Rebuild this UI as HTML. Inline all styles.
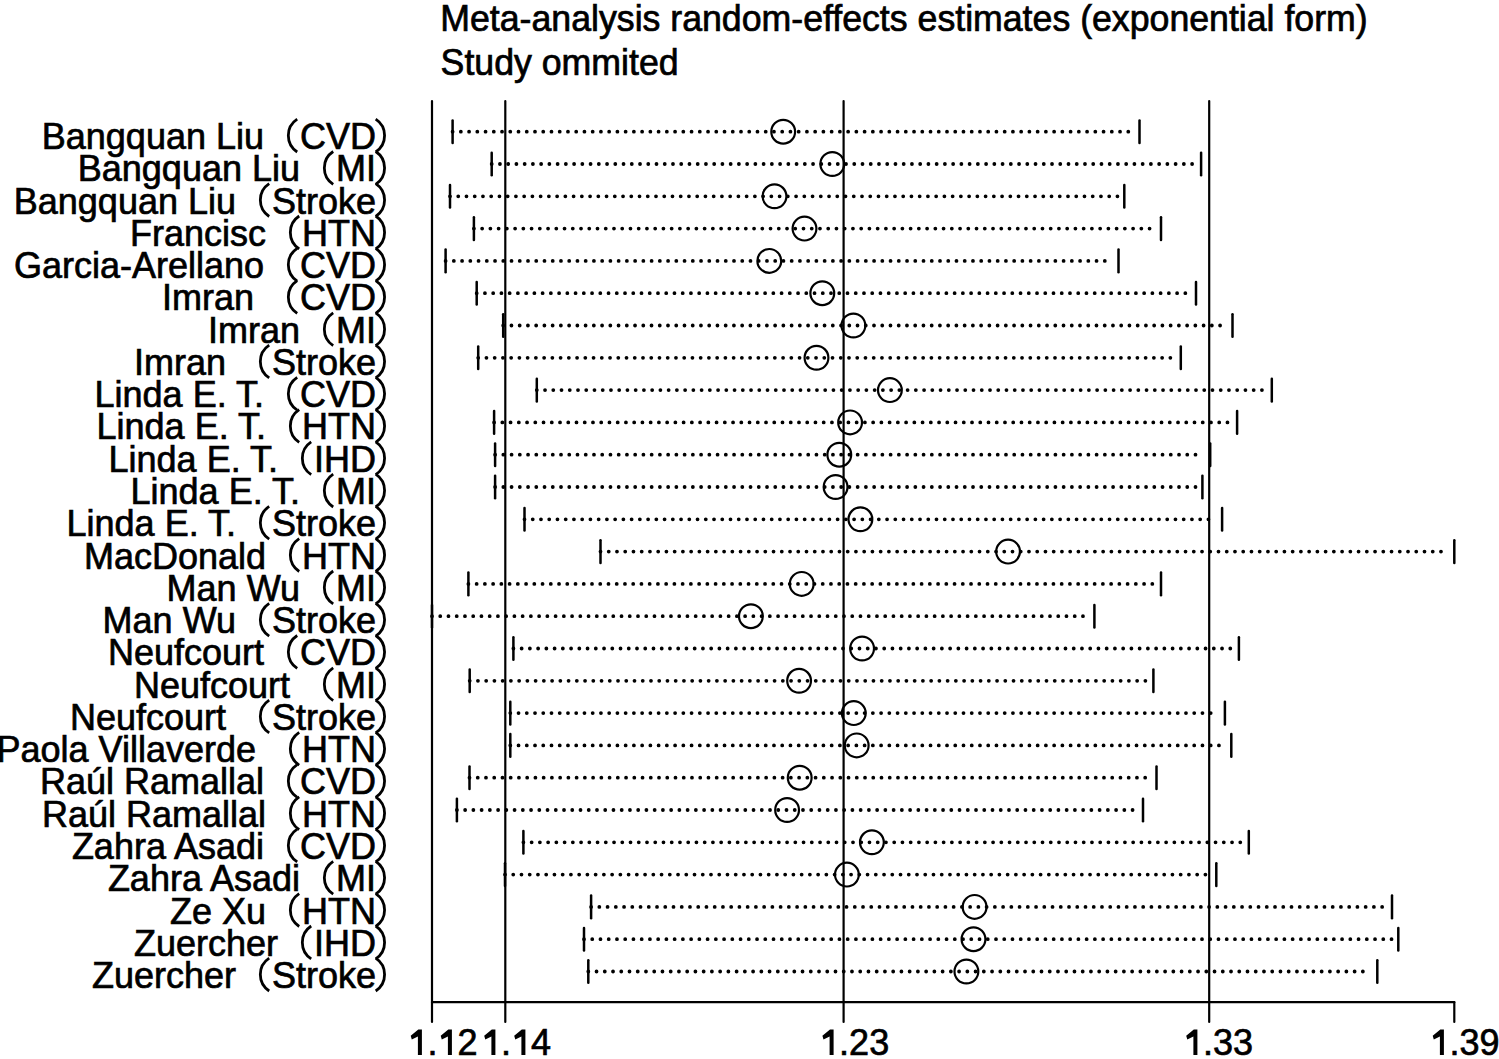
<!DOCTYPE html>
<html><head><meta charset="utf-8"><style>
html,body{margin:0;padding:0;background:#fff;}
svg{display:block;}
.t{font-family:"Liberation Sans",sans-serif;font-size:36px;fill:#000;stroke:#000;stroke-width:0.7;}
.ti{font-size:35.7px;}
.e{text-anchor:end;}
.ln{stroke:#000;stroke-width:2.2;stroke-linecap:round;}
.cap{stroke:#000;stroke-width:2.5;stroke-linecap:round;}
.pa{stroke:#000;stroke-width:2.8;fill:none;}
.dot{stroke:#000;stroke-width:3.8;stroke-linecap:round;fill:none;}
.cir{stroke:#000;stroke-width:2.2;fill:none;}
</style></head><body>
<svg width="1499" height="1059" viewBox="0 0 1499 1059">
<rect x="0" y="0" width="1499" height="1059" fill="#fff"/>
<text x="440.3" y="31" class="t ti" transform="translate(0 31) scale(1 1.06) translate(0 -31)">Meta-analysis random-effects estimates (exponential form)</text>
<text x="440.6" y="75.3" class="t ti" transform="translate(0 75.3) scale(1 1.05) translate(0 -75.3)">Study ommited</text>
<line x1="432.0" y1="101" x2="432.0" y2="1022" class="ln"/>
<line x1="505.3" y1="101" x2="505.3" y2="1022" class="ln"/>
<line x1="843.6" y1="101" x2="843.6" y2="1022" class="ln"/>
<line x1="1209.2" y1="101" x2="1209.2" y2="1022" class="ln"/>
<line x1="432" y1="1002.2" x2="1454.3" y2="1002.2" class="ln"/>
<line x1="1454.3" y1="1002.2" x2="1454.3" y2="1022" class="ln"/>
<path d="M421.9 1055.0 L417.9 1055.0 L417.9 1036.4 L411.8 1039.4 L410.7 1035.8 L418.3 1029.4 L421.9 1029.4 Z" fill="#000"/>
<text x="427.42" y="1055" class="t">.</text>
<path d="M451.9 1055.0 L447.9 1055.0 L447.9 1036.4 L441.8 1039.4 L440.7 1035.8 L448.3 1029.4 L451.9 1029.4 Z" fill="#000"/>
<text x="457.44" y="1055" class="t">2</text>
<path d="M495.4 1055.0 L491.4 1055.0 L491.4 1036.4 L485.3 1039.4 L484.2 1035.8 L491.8 1029.4 L495.4 1029.4 Z" fill="#000"/>
<text x="500.92" y="1055" class="t">.</text>
<path d="M525.4 1055.0 L521.4 1055.0 L521.4 1036.4 L515.3 1039.4 L514.2 1035.8 L521.8 1029.4 L525.4 1029.4 Z" fill="#000"/>
<text x="530.94" y="1055" class="t">4</text>
<path d="M833.6 1055.0 L829.6 1055.0 L829.6 1036.4 L823.5 1039.4 L822.4 1035.8 L830.0 1029.4 L833.6 1029.4 Z" fill="#000"/>
<text x="839.12" y="1055" class="t">.</text>
<text x="849.12" y="1055" class="t">2</text>
<text x="869.14" y="1055" class="t">3</text>
<path d="M1197.4 1055.0 L1193.4 1055.0 L1193.4 1036.4 L1187.3 1039.4 L1186.2 1035.8 L1193.8 1029.4 L1197.4 1029.4 Z" fill="#000"/>
<text x="1202.92" y="1055" class="t">.</text>
<text x="1212.92" y="1055" class="t">3</text>
<text x="1232.94" y="1055" class="t">3</text>
<path d="M1443.9 1055.0 L1439.9 1055.0 L1439.9 1036.4 L1433.8 1039.4 L1432.7 1035.8 L1440.3 1029.4 L1443.9 1029.4 Z" fill="#000"/>
<text x="1449.42" y="1055" class="t">.</text>
<text x="1459.42" y="1055" class="t">3</text>
<text x="1479.44" y="1055" class="t">9</text>
<text x="376.0" y="149.0" class="t e">CVD</text>
<path d="M297.2 119.2 A19.6 19.6 0 0 0 297.2 152.0" class="pa"/>
<path d="M375.7 119.2 A19.6 19.6 0 0 1 375.7 152.0" class="pa"/>
<text x="264.0" y="149.0" class="t e" xml:space="preserve">Bangquan Liu</text>
<line x1="452.6" y1="120.4" x2="452.6" y2="143.0" class="cap"/>
<line x1="1139.5" y1="120.4" x2="1139.5" y2="143.0" class="cap"/>
<path d="M452.60 131.7h0M460.84 131.7h0M469.08 131.7h0M477.32 131.7h0M485.56 131.7h0M493.80 131.7h0M502.04 131.7h0M510.28 131.7h0M518.52 131.7h0M526.76 131.7h0M535.00 131.7h0M543.24 131.7h0M551.48 131.7h0M559.72 131.7h0M567.96 131.7h0M576.20 131.7h0M584.44 131.7h0M592.68 131.7h0M600.92 131.7h0M609.16 131.7h0M617.40 131.7h0M625.64 131.7h0M633.88 131.7h0M642.12 131.7h0M650.36 131.7h0M658.60 131.7h0M666.84 131.7h0M675.08 131.7h0M683.32 131.7h0M691.56 131.7h0M699.80 131.7h0M708.04 131.7h0M716.28 131.7h0M724.52 131.7h0M732.76 131.7h0M741.00 131.7h0M749.24 131.7h0M757.48 131.7h0M765.72 131.7h0M773.96 131.7h0M782.20 131.7h0M790.44 131.7h0M798.68 131.7h0M806.92 131.7h0M815.16 131.7h0M823.40 131.7h0M831.64 131.7h0M839.88 131.7h0M848.12 131.7h0M856.36 131.7h0M864.60 131.7h0M872.84 131.7h0M881.08 131.7h0M889.32 131.7h0M897.56 131.7h0M905.80 131.7h0M914.04 131.7h0M922.28 131.7h0M930.52 131.7h0M938.76 131.7h0M947.00 131.7h0M955.24 131.7h0M963.48 131.7h0M971.72 131.7h0M979.96 131.7h0M988.20 131.7h0M996.44 131.7h0M1004.68 131.7h0M1012.92 131.7h0M1021.16 131.7h0M1029.40 131.7h0M1037.64 131.7h0M1045.88 131.7h0M1054.12 131.7h0M1062.36 131.7h0M1070.60 131.7h0M1078.84 131.7h0M1087.08 131.7h0M1095.32 131.7h0M1103.56 131.7h0M1111.80 131.7h0M1120.04 131.7h0M1128.28 131.7h0" class="dot"/>
<circle cx="783.2" cy="131.7" r="11.9" class="cir"/>
<text x="376.0" y="181.3" class="t e">MI</text>
<path d="M333.2 151.5 A19.6 19.6 0 0 0 333.2 184.3" class="pa"/>
<path d="M375.7 151.5 A19.6 19.6 0 0 1 375.7 184.3" class="pa"/>
<text x="300.0" y="181.3" class="t e" xml:space="preserve">Bangquan Liu</text>
<line x1="491.7" y1="152.7" x2="491.7" y2="175.3" class="cap"/>
<line x1="1201.1" y1="152.7" x2="1201.1" y2="175.3" class="cap"/>
<path d="M491.70 164.0h0M499.94 164.0h0M508.18 164.0h0M516.42 164.0h0M524.66 164.0h0M532.90 164.0h0M541.14 164.0h0M549.38 164.0h0M557.62 164.0h0M565.86 164.0h0M574.10 164.0h0M582.34 164.0h0M590.58 164.0h0M598.82 164.0h0M607.06 164.0h0M615.30 164.0h0M623.54 164.0h0M631.78 164.0h0M640.02 164.0h0M648.26 164.0h0M656.50 164.0h0M664.74 164.0h0M672.98 164.0h0M681.22 164.0h0M689.46 164.0h0M697.70 164.0h0M705.94 164.0h0M714.18 164.0h0M722.42 164.0h0M730.66 164.0h0M738.90 164.0h0M747.14 164.0h0M755.38 164.0h0M763.62 164.0h0M771.86 164.0h0M780.10 164.0h0M788.34 164.0h0M796.58 164.0h0M804.82 164.0h0M813.06 164.0h0M821.30 164.0h0M829.54 164.0h0M837.78 164.0h0M846.02 164.0h0M854.26 164.0h0M862.50 164.0h0M870.74 164.0h0M878.98 164.0h0M887.22 164.0h0M895.46 164.0h0M903.70 164.0h0M911.94 164.0h0M920.18 164.0h0M928.42 164.0h0M936.66 164.0h0M944.90 164.0h0M953.14 164.0h0M961.38 164.0h0M969.62 164.0h0M977.86 164.0h0M986.10 164.0h0M994.34 164.0h0M1002.58 164.0h0M1010.82 164.0h0M1019.06 164.0h0M1027.30 164.0h0M1035.54 164.0h0M1043.78 164.0h0M1052.02 164.0h0M1060.26 164.0h0M1068.50 164.0h0M1076.74 164.0h0M1084.98 164.0h0M1093.22 164.0h0M1101.46 164.0h0M1109.70 164.0h0M1117.94 164.0h0M1126.18 164.0h0M1134.42 164.0h0M1142.66 164.0h0M1150.90 164.0h0M1159.14 164.0h0M1167.38 164.0h0M1175.62 164.0h0M1183.86 164.0h0M1192.10 164.0h0" class="dot"/>
<circle cx="832.3" cy="164.0" r="11.9" class="cir"/>
<text x="376.0" y="213.5" class="t e">Stroke</text>
<path d="M269.2 183.7 A19.6 19.6 0 0 0 269.2 216.5" class="pa"/>
<path d="M375.7 183.7 A19.6 19.6 0 0 1 375.7 216.5" class="pa"/>
<text x="236.0" y="213.5" class="t e" xml:space="preserve">Bangquan Liu</text>
<line x1="450.0" y1="185.0" x2="450.0" y2="207.6" class="cap"/>
<line x1="1124.3" y1="185.0" x2="1124.3" y2="207.6" class="cap"/>
<path d="M450.00 196.3h0M458.24 196.3h0M466.48 196.3h0M474.72 196.3h0M482.96 196.3h0M491.20 196.3h0M499.44 196.3h0M507.68 196.3h0M515.92 196.3h0M524.16 196.3h0M532.40 196.3h0M540.64 196.3h0M548.88 196.3h0M557.12 196.3h0M565.36 196.3h0M573.60 196.3h0M581.84 196.3h0M590.08 196.3h0M598.32 196.3h0M606.56 196.3h0M614.80 196.3h0M623.04 196.3h0M631.28 196.3h0M639.52 196.3h0M647.76 196.3h0M656.00 196.3h0M664.24 196.3h0M672.48 196.3h0M680.72 196.3h0M688.96 196.3h0M697.20 196.3h0M705.44 196.3h0M713.68 196.3h0M721.92 196.3h0M730.16 196.3h0M738.40 196.3h0M746.64 196.3h0M754.88 196.3h0M763.12 196.3h0M771.36 196.3h0M779.60 196.3h0M787.84 196.3h0M796.08 196.3h0M804.32 196.3h0M812.56 196.3h0M820.80 196.3h0M829.04 196.3h0M837.28 196.3h0M845.52 196.3h0M853.76 196.3h0M862.00 196.3h0M870.24 196.3h0M878.48 196.3h0M886.72 196.3h0M894.96 196.3h0M903.20 196.3h0M911.44 196.3h0M919.68 196.3h0M927.92 196.3h0M936.16 196.3h0M944.40 196.3h0M952.64 196.3h0M960.88 196.3h0M969.12 196.3h0M977.36 196.3h0M985.60 196.3h0M993.84 196.3h0M1002.08 196.3h0M1010.32 196.3h0M1018.56 196.3h0M1026.80 196.3h0M1035.04 196.3h0M1043.28 196.3h0M1051.52 196.3h0M1059.76 196.3h0M1068.00 196.3h0M1076.24 196.3h0M1084.48 196.3h0M1092.72 196.3h0M1100.96 196.3h0M1109.20 196.3h0M1117.44 196.3h0" class="dot"/>
<circle cx="774.5" cy="196.3" r="11.9" class="cir"/>
<text x="376.0" y="245.8" class="t e">HTN</text>
<path d="M299.2 216.0 A19.6 19.6 0 0 0 299.2 248.8" class="pa"/>
<path d="M375.7 216.0 A19.6 19.6 0 0 1 375.7 248.8" class="pa"/>
<text x="266.0" y="245.8" class="t e" xml:space="preserve">Francisc</text>
<line x1="473.9" y1="217.3" x2="473.9" y2="239.9" class="cap"/>
<line x1="1161.0" y1="217.3" x2="1161.0" y2="239.9" class="cap"/>
<path d="M473.90 228.6h0M482.14 228.6h0M490.38 228.6h0M498.62 228.6h0M506.86 228.6h0M515.10 228.6h0M523.34 228.6h0M531.58 228.6h0M539.82 228.6h0M548.06 228.6h0M556.30 228.6h0M564.54 228.6h0M572.78 228.6h0M581.02 228.6h0M589.26 228.6h0M597.50 228.6h0M605.74 228.6h0M613.98 228.6h0M622.22 228.6h0M630.46 228.6h0M638.70 228.6h0M646.94 228.6h0M655.18 228.6h0M663.42 228.6h0M671.66 228.6h0M679.90 228.6h0M688.14 228.6h0M696.38 228.6h0M704.62 228.6h0M712.86 228.6h0M721.10 228.6h0M729.34 228.6h0M737.58 228.6h0M745.82 228.6h0M754.06 228.6h0M762.30 228.6h0M770.54 228.6h0M778.78 228.6h0M787.02 228.6h0M795.26 228.6h0M803.50 228.6h0M811.74 228.6h0M819.98 228.6h0M828.22 228.6h0M836.46 228.6h0M844.70 228.6h0M852.94 228.6h0M861.18 228.6h0M869.42 228.6h0M877.66 228.6h0M885.90 228.6h0M894.14 228.6h0M902.38 228.6h0M910.62 228.6h0M918.86 228.6h0M927.10 228.6h0M935.34 228.6h0M943.58 228.6h0M951.82 228.6h0M960.06 228.6h0M968.30 228.6h0M976.54 228.6h0M984.78 228.6h0M993.02 228.6h0M1001.26 228.6h0M1009.50 228.6h0M1017.74 228.6h0M1025.98 228.6h0M1034.22 228.6h0M1042.46 228.6h0M1050.70 228.6h0M1058.94 228.6h0M1067.18 228.6h0M1075.42 228.6h0M1083.66 228.6h0M1091.90 228.6h0M1100.14 228.6h0M1108.38 228.6h0M1116.62 228.6h0M1124.86 228.6h0M1133.10 228.6h0M1141.34 228.6h0M1149.58 228.6h0" class="dot"/>
<circle cx="804.5" cy="228.6" r="11.9" class="cir"/>
<text x="376.0" y="278.1" class="t e">CVD</text>
<path d="M297.2 248.3 A19.6 19.6 0 0 0 297.2 281.1" class="pa"/>
<path d="M375.7 248.3 A19.6 19.6 0 0 1 375.7 281.1" class="pa"/>
<text x="264.0" y="278.1" class="t e" xml:space="preserve">Garcia-Arellano</text>
<line x1="445.6" y1="249.6" x2="445.6" y2="272.2" class="cap"/>
<line x1="1118.5" y1="249.6" x2="1118.5" y2="272.2" class="cap"/>
<path d="M445.60 260.9h0M453.84 260.9h0M462.08 260.9h0M470.32 260.9h0M478.56 260.9h0M486.80 260.9h0M495.04 260.9h0M503.28 260.9h0M511.52 260.9h0M519.76 260.9h0M528.00 260.9h0M536.24 260.9h0M544.48 260.9h0M552.72 260.9h0M560.96 260.9h0M569.20 260.9h0M577.44 260.9h0M585.68 260.9h0M593.92 260.9h0M602.16 260.9h0M610.40 260.9h0M618.64 260.9h0M626.88 260.9h0M635.12 260.9h0M643.36 260.9h0M651.60 260.9h0M659.84 260.9h0M668.08 260.9h0M676.32 260.9h0M684.56 260.9h0M692.80 260.9h0M701.04 260.9h0M709.28 260.9h0M717.52 260.9h0M725.76 260.9h0M734.00 260.9h0M742.24 260.9h0M750.48 260.9h0M758.72 260.9h0M766.96 260.9h0M775.20 260.9h0M783.44 260.9h0M791.68 260.9h0M799.92 260.9h0M808.16 260.9h0M816.40 260.9h0M824.64 260.9h0M832.88 260.9h0M841.12 260.9h0M849.36 260.9h0M857.60 260.9h0M865.84 260.9h0M874.08 260.9h0M882.32 260.9h0M890.56 260.9h0M898.80 260.9h0M907.04 260.9h0M915.28 260.9h0M923.52 260.9h0M931.76 260.9h0M940.00 260.9h0M948.24 260.9h0M956.48 260.9h0M964.72 260.9h0M972.96 260.9h0M981.20 260.9h0M989.44 260.9h0M997.68 260.9h0M1005.92 260.9h0M1014.16 260.9h0M1022.40 260.9h0M1030.64 260.9h0M1038.88 260.9h0M1047.12 260.9h0M1055.36 260.9h0M1063.60 260.9h0M1071.84 260.9h0M1080.08 260.9h0M1088.32 260.9h0M1096.56 260.9h0M1104.80 260.9h0" class="dot"/>
<circle cx="769.3" cy="260.9" r="11.9" class="cir"/>
<text x="376.0" y="310.4" class="t e">CVD</text>
<path d="M297.2 280.6 A19.6 19.6 0 0 0 297.2 313.4" class="pa"/>
<path d="M375.7 280.6 A19.6 19.6 0 0 1 375.7 313.4" class="pa"/>
<text x="264.0" y="310.4" class="t e" xml:space="preserve">Imran </text>
<line x1="476.7" y1="281.9" x2="476.7" y2="304.5" class="cap"/>
<line x1="1196.0" y1="281.9" x2="1196.0" y2="304.5" class="cap"/>
<path d="M476.70 293.2h0M484.94 293.2h0M493.18 293.2h0M501.42 293.2h0M509.66 293.2h0M517.90 293.2h0M526.14 293.2h0M534.38 293.2h0M542.62 293.2h0M550.86 293.2h0M559.10 293.2h0M567.34 293.2h0M575.58 293.2h0M583.82 293.2h0M592.06 293.2h0M600.30 293.2h0M608.54 293.2h0M616.78 293.2h0M625.02 293.2h0M633.26 293.2h0M641.50 293.2h0M649.74 293.2h0M657.98 293.2h0M666.22 293.2h0M674.46 293.2h0M682.70 293.2h0M690.94 293.2h0M699.18 293.2h0M707.42 293.2h0M715.66 293.2h0M723.90 293.2h0M732.14 293.2h0M740.38 293.2h0M748.62 293.2h0M756.86 293.2h0M765.10 293.2h0M773.34 293.2h0M781.58 293.2h0M789.82 293.2h0M798.06 293.2h0M806.30 293.2h0M814.54 293.2h0M822.78 293.2h0M831.02 293.2h0M839.26 293.2h0M847.50 293.2h0M855.74 293.2h0M863.98 293.2h0M872.22 293.2h0M880.46 293.2h0M888.70 293.2h0M896.94 293.2h0M905.18 293.2h0M913.42 293.2h0M921.66 293.2h0M929.90 293.2h0M938.14 293.2h0M946.38 293.2h0M954.62 293.2h0M962.86 293.2h0M971.10 293.2h0M979.34 293.2h0M987.58 293.2h0M995.82 293.2h0M1004.06 293.2h0M1012.30 293.2h0M1020.54 293.2h0M1028.78 293.2h0M1037.02 293.2h0M1045.26 293.2h0M1053.50 293.2h0M1061.74 293.2h0M1069.98 293.2h0M1078.22 293.2h0M1086.46 293.2h0M1094.70 293.2h0M1102.94 293.2h0M1111.18 293.2h0M1119.42 293.2h0M1127.66 293.2h0M1135.90 293.2h0M1144.14 293.2h0M1152.38 293.2h0M1160.62 293.2h0M1168.86 293.2h0M1177.10 293.2h0M1185.34 293.2h0" class="dot"/>
<circle cx="822.3" cy="293.2" r="11.9" class="cir"/>
<text x="376.0" y="342.6" class="t e">MI</text>
<path d="M333.2 312.8 A19.6 19.6 0 0 0 333.2 345.6" class="pa"/>
<path d="M375.7 312.8 A19.6 19.6 0 0 1 375.7 345.6" class="pa"/>
<text x="300.0" y="342.6" class="t e" xml:space="preserve">Imran</text>
<line x1="503.2" y1="314.2" x2="503.2" y2="336.8" class="cap"/>
<line x1="1232.5" y1="314.2" x2="1232.5" y2="336.8" class="cap"/>
<path d="M503.20 325.5h0M511.44 325.5h0M519.68 325.5h0M527.92 325.5h0M536.16 325.5h0M544.40 325.5h0M552.64 325.5h0M560.88 325.5h0M569.12 325.5h0M577.36 325.5h0M585.60 325.5h0M593.84 325.5h0M602.08 325.5h0M610.32 325.5h0M618.56 325.5h0M626.80 325.5h0M635.04 325.5h0M643.28 325.5h0M651.52 325.5h0M659.76 325.5h0M668.00 325.5h0M676.24 325.5h0M684.48 325.5h0M692.72 325.5h0M700.96 325.5h0M709.20 325.5h0M717.44 325.5h0M725.68 325.5h0M733.92 325.5h0M742.16 325.5h0M750.40 325.5h0M758.64 325.5h0M766.88 325.5h0M775.12 325.5h0M783.36 325.5h0M791.60 325.5h0M799.84 325.5h0M808.08 325.5h0M816.32 325.5h0M824.56 325.5h0M832.80 325.5h0M841.04 325.5h0M849.28 325.5h0M857.52 325.5h0M865.76 325.5h0M874.00 325.5h0M882.24 325.5h0M890.48 325.5h0M898.72 325.5h0M906.96 325.5h0M915.20 325.5h0M923.44 325.5h0M931.68 325.5h0M939.92 325.5h0M948.16 325.5h0M956.40 325.5h0M964.64 325.5h0M972.88 325.5h0M981.12 325.5h0M989.36 325.5h0M997.60 325.5h0M1005.84 325.5h0M1014.08 325.5h0M1022.32 325.5h0M1030.56 325.5h0M1038.80 325.5h0M1047.04 325.5h0M1055.28 325.5h0M1063.52 325.5h0M1071.76 325.5h0M1080.00 325.5h0M1088.24 325.5h0M1096.48 325.5h0M1104.72 325.5h0M1112.96 325.5h0M1121.20 325.5h0M1129.44 325.5h0M1137.68 325.5h0M1145.92 325.5h0M1154.16 325.5h0M1162.40 325.5h0M1170.64 325.5h0M1178.88 325.5h0M1187.12 325.5h0M1195.36 325.5h0M1203.60 325.5h0M1211.84 325.5h0M1220.08 325.5h0" class="dot"/>
<circle cx="853.4" cy="325.5" r="11.9" class="cir"/>
<text x="376.0" y="374.9" class="t e">Stroke</text>
<path d="M269.2 345.1 A19.6 19.6 0 0 0 269.2 377.9" class="pa"/>
<path d="M375.7 345.1 A19.6 19.6 0 0 1 375.7 377.9" class="pa"/>
<text x="236.0" y="374.9" class="t e" xml:space="preserve">Imran </text>
<line x1="478.2" y1="346.5" x2="478.2" y2="369.1" class="cap"/>
<line x1="1180.8" y1="346.5" x2="1180.8" y2="369.1" class="cap"/>
<path d="M478.20 357.8h0M486.44 357.8h0M494.68 357.8h0M502.92 357.8h0M511.16 357.8h0M519.40 357.8h0M527.64 357.8h0M535.88 357.8h0M544.12 357.8h0M552.36 357.8h0M560.60 357.8h0M568.84 357.8h0M577.08 357.8h0M585.32 357.8h0M593.56 357.8h0M601.80 357.8h0M610.04 357.8h0M618.28 357.8h0M626.52 357.8h0M634.76 357.8h0M643.00 357.8h0M651.24 357.8h0M659.48 357.8h0M667.72 357.8h0M675.96 357.8h0M684.20 357.8h0M692.44 357.8h0M700.68 357.8h0M708.92 357.8h0M717.16 357.8h0M725.40 357.8h0M733.64 357.8h0M741.88 357.8h0M750.12 357.8h0M758.36 357.8h0M766.60 357.8h0M774.84 357.8h0M783.08 357.8h0M791.32 357.8h0M799.56 357.8h0M807.80 357.8h0M816.04 357.8h0M824.28 357.8h0M832.52 357.8h0M840.76 357.8h0M849.00 357.8h0M857.24 357.8h0M865.48 357.8h0M873.72 357.8h0M881.96 357.8h0M890.20 357.8h0M898.44 357.8h0M906.68 357.8h0M914.92 357.8h0M923.16 357.8h0M931.40 357.8h0M939.64 357.8h0M947.88 357.8h0M956.12 357.8h0M964.36 357.8h0M972.60 357.8h0M980.84 357.8h0M989.08 357.8h0M997.32 357.8h0M1005.56 357.8h0M1013.80 357.8h0M1022.04 357.8h0M1030.28 357.8h0M1038.52 357.8h0M1046.76 357.8h0M1055.00 357.8h0M1063.24 357.8h0M1071.48 357.8h0M1079.72 357.8h0M1087.96 357.8h0M1096.20 357.8h0M1104.44 357.8h0M1112.68 357.8h0M1120.92 357.8h0M1129.16 357.8h0M1137.40 357.8h0M1145.64 357.8h0M1153.88 357.8h0M1162.12 357.8h0M1170.36 357.8h0" class="dot"/>
<circle cx="816.5" cy="357.8" r="11.9" class="cir"/>
<text x="376.0" y="407.2" class="t e">CVD</text>
<path d="M297.2 377.4 A19.6 19.6 0 0 0 297.2 410.2" class="pa"/>
<path d="M375.7 377.4 A19.6 19.6 0 0 1 375.7 410.2" class="pa"/>
<text x="264.0" y="407.2" class="t e" xml:space="preserve">Linda E. T.</text>
<line x1="536.8" y1="378.8" x2="536.8" y2="401.4" class="cap"/>
<line x1="1271.8" y1="378.8" x2="1271.8" y2="401.4" class="cap"/>
<path d="M536.80 390.1h0M545.04 390.1h0M553.28 390.1h0M561.52 390.1h0M569.76 390.1h0M578.00 390.1h0M586.24 390.1h0M594.48 390.1h0M602.72 390.1h0M610.96 390.1h0M619.20 390.1h0M627.44 390.1h0M635.68 390.1h0M643.92 390.1h0M652.16 390.1h0M660.40 390.1h0M668.64 390.1h0M676.88 390.1h0M685.12 390.1h0M693.36 390.1h0M701.60 390.1h0M709.84 390.1h0M718.08 390.1h0M726.32 390.1h0M734.56 390.1h0M742.80 390.1h0M751.04 390.1h0M759.28 390.1h0M767.52 390.1h0M775.76 390.1h0M784.00 390.1h0M792.24 390.1h0M800.48 390.1h0M808.72 390.1h0M816.96 390.1h0M825.20 390.1h0M833.44 390.1h0M841.68 390.1h0M849.92 390.1h0M858.16 390.1h0M866.40 390.1h0M874.64 390.1h0M882.88 390.1h0M891.12 390.1h0M899.36 390.1h0M907.60 390.1h0M915.84 390.1h0M924.08 390.1h0M932.32 390.1h0M940.56 390.1h0M948.80 390.1h0M957.04 390.1h0M965.28 390.1h0M973.52 390.1h0M981.76 390.1h0M990.00 390.1h0M998.24 390.1h0M1006.48 390.1h0M1014.72 390.1h0M1022.96 390.1h0M1031.20 390.1h0M1039.44 390.1h0M1047.68 390.1h0M1055.92 390.1h0M1064.16 390.1h0M1072.40 390.1h0M1080.64 390.1h0M1088.88 390.1h0M1097.12 390.1h0M1105.36 390.1h0M1113.60 390.1h0M1121.84 390.1h0M1130.08 390.1h0M1138.32 390.1h0M1146.56 390.1h0M1154.80 390.1h0M1163.04 390.1h0M1171.28 390.1h0M1179.52 390.1h0M1187.76 390.1h0M1196.00 390.1h0M1204.24 390.1h0M1212.48 390.1h0M1220.72 390.1h0M1228.96 390.1h0M1237.20 390.1h0M1245.44 390.1h0M1253.68 390.1h0M1261.92 390.1h0" class="dot"/>
<circle cx="889.9" cy="390.1" r="11.9" class="cir"/>
<text x="376.0" y="439.4" class="t e">HTN</text>
<path d="M299.2 409.6 A19.6 19.6 0 0 0 299.2 442.4" class="pa"/>
<path d="M375.7 409.6 A19.6 19.6 0 0 1 375.7 442.4" class="pa"/>
<text x="266.0" y="439.4" class="t e" xml:space="preserve">Linda E. T.</text>
<line x1="494.1" y1="411.1" x2="494.1" y2="433.7" class="cap"/>
<line x1="1237.1" y1="411.1" x2="1237.1" y2="433.7" class="cap"/>
<path d="M494.10 422.4h0M502.34 422.4h0M510.58 422.4h0M518.82 422.4h0M527.06 422.4h0M535.30 422.4h0M543.54 422.4h0M551.78 422.4h0M560.02 422.4h0M568.26 422.4h0M576.50 422.4h0M584.74 422.4h0M592.98 422.4h0M601.22 422.4h0M609.46 422.4h0M617.70 422.4h0M625.94 422.4h0M634.18 422.4h0M642.42 422.4h0M650.66 422.4h0M658.90 422.4h0M667.14 422.4h0M675.38 422.4h0M683.62 422.4h0M691.86 422.4h0M700.10 422.4h0M708.34 422.4h0M716.58 422.4h0M724.82 422.4h0M733.06 422.4h0M741.30 422.4h0M749.54 422.4h0M757.78 422.4h0M766.02 422.4h0M774.26 422.4h0M782.50 422.4h0M790.74 422.4h0M798.98 422.4h0M807.22 422.4h0M815.46 422.4h0M823.70 422.4h0M831.94 422.4h0M840.18 422.4h0M848.42 422.4h0M856.66 422.4h0M864.90 422.4h0M873.14 422.4h0M881.38 422.4h0M889.62 422.4h0M897.86 422.4h0M906.10 422.4h0M914.34 422.4h0M922.58 422.4h0M930.82 422.4h0M939.06 422.4h0M947.30 422.4h0M955.54 422.4h0M963.78 422.4h0M972.02 422.4h0M980.26 422.4h0M988.50 422.4h0M996.74 422.4h0M1004.98 422.4h0M1013.22 422.4h0M1021.46 422.4h0M1029.70 422.4h0M1037.94 422.4h0M1046.18 422.4h0M1054.42 422.4h0M1062.66 422.4h0M1070.90 422.4h0M1079.14 422.4h0M1087.38 422.4h0M1095.62 422.4h0M1103.86 422.4h0M1112.10 422.4h0M1120.34 422.4h0M1128.58 422.4h0M1136.82 422.4h0M1145.06 422.4h0M1153.30 422.4h0M1161.54 422.4h0M1169.78 422.4h0M1178.02 422.4h0M1186.26 422.4h0M1194.50 422.4h0M1202.74 422.4h0M1210.98 422.4h0M1219.22 422.4h0M1227.46 422.4h0" class="dot"/>
<circle cx="850.1" cy="422.4" r="11.9" class="cir"/>
<text x="376.0" y="471.7" class="t e">IHD</text>
<path d="M311.2 441.9 A19.6 19.6 0 0 0 311.2 474.7" class="pa"/>
<path d="M375.7 441.9 A19.6 19.6 0 0 1 375.7 474.7" class="pa"/>
<text x="278.0" y="471.7" class="t e" xml:space="preserve">Linda E. T.</text>
<line x1="495.1" y1="443.4" x2="495.1" y2="466.0" class="cap"/>
<line x1="1210.2" y1="443.4" x2="1210.2" y2="466.0" class="cap"/>
<path d="M495.10 454.7h0M503.34 454.7h0M511.58 454.7h0M519.82 454.7h0M528.06 454.7h0M536.30 454.7h0M544.54 454.7h0M552.78 454.7h0M561.02 454.7h0M569.26 454.7h0M577.50 454.7h0M585.74 454.7h0M593.98 454.7h0M602.22 454.7h0M610.46 454.7h0M618.70 454.7h0M626.94 454.7h0M635.18 454.7h0M643.42 454.7h0M651.66 454.7h0M659.90 454.7h0M668.14 454.7h0M676.38 454.7h0M684.62 454.7h0M692.86 454.7h0M701.10 454.7h0M709.34 454.7h0M717.58 454.7h0M725.82 454.7h0M734.06 454.7h0M742.30 454.7h0M750.54 454.7h0M758.78 454.7h0M767.02 454.7h0M775.26 454.7h0M783.50 454.7h0M791.74 454.7h0M799.98 454.7h0M808.22 454.7h0M816.46 454.7h0M824.70 454.7h0M832.94 454.7h0M841.18 454.7h0M849.42 454.7h0M857.66 454.7h0M865.90 454.7h0M874.14 454.7h0M882.38 454.7h0M890.62 454.7h0M898.86 454.7h0M907.10 454.7h0M915.34 454.7h0M923.58 454.7h0M931.82 454.7h0M940.06 454.7h0M948.30 454.7h0M956.54 454.7h0M964.78 454.7h0M973.02 454.7h0M981.26 454.7h0M989.50 454.7h0M997.74 454.7h0M1005.98 454.7h0M1014.22 454.7h0M1022.46 454.7h0M1030.70 454.7h0M1038.94 454.7h0M1047.18 454.7h0M1055.42 454.7h0M1063.66 454.7h0M1071.90 454.7h0M1080.14 454.7h0M1088.38 454.7h0M1096.62 454.7h0M1104.86 454.7h0M1113.10 454.7h0M1121.34 454.7h0M1129.58 454.7h0M1137.82 454.7h0M1146.06 454.7h0M1154.30 454.7h0M1162.54 454.7h0M1170.78 454.7h0M1179.02 454.7h0M1187.26 454.7h0M1195.50 454.7h0" class="dot"/>
<circle cx="839.3" cy="454.7" r="11.9" class="cir"/>
<text x="376.0" y="504.0" class="t e">MI</text>
<path d="M333.2 474.2 A19.6 19.6 0 0 0 333.2 507.0" class="pa"/>
<path d="M375.7 474.2 A19.6 19.6 0 0 1 375.7 507.0" class="pa"/>
<text x="300.0" y="504.0" class="t e" xml:space="preserve">Linda E. T.</text>
<line x1="495.1" y1="475.7" x2="495.1" y2="498.3" class="cap"/>
<line x1="1202.4" y1="475.7" x2="1202.4" y2="498.3" class="cap"/>
<path d="M495.10 487.0h0M503.34 487.0h0M511.58 487.0h0M519.82 487.0h0M528.06 487.0h0M536.30 487.0h0M544.54 487.0h0M552.78 487.0h0M561.02 487.0h0M569.26 487.0h0M577.50 487.0h0M585.74 487.0h0M593.98 487.0h0M602.22 487.0h0M610.46 487.0h0M618.70 487.0h0M626.94 487.0h0M635.18 487.0h0M643.42 487.0h0M651.66 487.0h0M659.90 487.0h0M668.14 487.0h0M676.38 487.0h0M684.62 487.0h0M692.86 487.0h0M701.10 487.0h0M709.34 487.0h0M717.58 487.0h0M725.82 487.0h0M734.06 487.0h0M742.30 487.0h0M750.54 487.0h0M758.78 487.0h0M767.02 487.0h0M775.26 487.0h0M783.50 487.0h0M791.74 487.0h0M799.98 487.0h0M808.22 487.0h0M816.46 487.0h0M824.70 487.0h0M832.94 487.0h0M841.18 487.0h0M849.42 487.0h0M857.66 487.0h0M865.90 487.0h0M874.14 487.0h0M882.38 487.0h0M890.62 487.0h0M898.86 487.0h0M907.10 487.0h0M915.34 487.0h0M923.58 487.0h0M931.82 487.0h0M940.06 487.0h0M948.30 487.0h0M956.54 487.0h0M964.78 487.0h0M973.02 487.0h0M981.26 487.0h0M989.50 487.0h0M997.74 487.0h0M1005.98 487.0h0M1014.22 487.0h0M1022.46 487.0h0M1030.70 487.0h0M1038.94 487.0h0M1047.18 487.0h0M1055.42 487.0h0M1063.66 487.0h0M1071.90 487.0h0M1080.14 487.0h0M1088.38 487.0h0M1096.62 487.0h0M1104.86 487.0h0M1113.10 487.0h0M1121.34 487.0h0M1129.58 487.0h0M1137.82 487.0h0M1146.06 487.0h0M1154.30 487.0h0M1162.54 487.0h0M1170.78 487.0h0M1179.02 487.0h0M1187.26 487.0h0M1195.50 487.0h0" class="dot"/>
<circle cx="835.6" cy="487.0" r="11.9" class="cir"/>
<text x="376.0" y="536.2" class="t e">Stroke</text>
<path d="M269.2 506.4 A19.6 19.6 0 0 0 269.2 539.2" class="pa"/>
<path d="M375.7 506.4 A19.6 19.6 0 0 1 375.7 539.2" class="pa"/>
<text x="236.0" y="536.2" class="t e" xml:space="preserve">Linda E. T.</text>
<line x1="524.5" y1="508.0" x2="524.5" y2="530.6" class="cap"/>
<line x1="1222.1" y1="508.0" x2="1222.1" y2="530.6" class="cap"/>
<path d="M524.50 519.3h0M532.74 519.3h0M540.98 519.3h0M549.22 519.3h0M557.46 519.3h0M565.70 519.3h0M573.94 519.3h0M582.18 519.3h0M590.42 519.3h0M598.66 519.3h0M606.90 519.3h0M615.14 519.3h0M623.38 519.3h0M631.62 519.3h0M639.86 519.3h0M648.10 519.3h0M656.34 519.3h0M664.58 519.3h0M672.82 519.3h0M681.06 519.3h0M689.30 519.3h0M697.54 519.3h0M705.78 519.3h0M714.02 519.3h0M722.26 519.3h0M730.50 519.3h0M738.74 519.3h0M746.98 519.3h0M755.22 519.3h0M763.46 519.3h0M771.70 519.3h0M779.94 519.3h0M788.18 519.3h0M796.42 519.3h0M804.66 519.3h0M812.90 519.3h0M821.14 519.3h0M829.38 519.3h0M837.62 519.3h0M845.86 519.3h0M854.10 519.3h0M862.34 519.3h0M870.58 519.3h0M878.82 519.3h0M887.06 519.3h0M895.30 519.3h0M903.54 519.3h0M911.78 519.3h0M920.02 519.3h0M928.26 519.3h0M936.50 519.3h0M944.74 519.3h0M952.98 519.3h0M961.22 519.3h0M969.46 519.3h0M977.70 519.3h0M985.94 519.3h0M994.18 519.3h0M1002.42 519.3h0M1010.66 519.3h0M1018.90 519.3h0M1027.14 519.3h0M1035.38 519.3h0M1043.62 519.3h0M1051.86 519.3h0M1060.10 519.3h0M1068.34 519.3h0M1076.58 519.3h0M1084.82 519.3h0M1093.06 519.3h0M1101.30 519.3h0M1109.54 519.3h0M1117.78 519.3h0M1126.02 519.3h0M1134.26 519.3h0M1142.50 519.3h0M1150.74 519.3h0M1158.98 519.3h0M1167.22 519.3h0M1175.46 519.3h0M1183.70 519.3h0M1191.94 519.3h0M1200.18 519.3h0M1208.42 519.3h0" class="dot"/>
<circle cx="860.4" cy="519.3" r="11.9" class="cir"/>
<text x="376.0" y="568.5" class="t e">HTN</text>
<path d="M299.2 538.7 A19.6 19.6 0 0 0 299.2 571.5" class="pa"/>
<path d="M375.7 538.7 A19.6 19.6 0 0 1 375.7 571.5" class="pa"/>
<text x="266.0" y="568.5" class="t e" xml:space="preserve">MacDonald</text>
<line x1="600.5" y1="540.3" x2="600.5" y2="562.9" class="cap"/>
<line x1="1454.3" y1="540.3" x2="1454.3" y2="562.9" class="cap"/>
<path d="M600.50 551.6h0M608.74 551.6h0M616.98 551.6h0M625.22 551.6h0M633.46 551.6h0M641.70 551.6h0M649.94 551.6h0M658.18 551.6h0M666.42 551.6h0M674.66 551.6h0M682.90 551.6h0M691.14 551.6h0M699.38 551.6h0M707.62 551.6h0M715.86 551.6h0M724.10 551.6h0M732.34 551.6h0M740.58 551.6h0M748.82 551.6h0M757.06 551.6h0M765.30 551.6h0M773.54 551.6h0M781.78 551.6h0M790.02 551.6h0M798.26 551.6h0M806.50 551.6h0M814.74 551.6h0M822.98 551.6h0M831.22 551.6h0M839.46 551.6h0M847.70 551.6h0M855.94 551.6h0M864.18 551.6h0M872.42 551.6h0M880.66 551.6h0M888.90 551.6h0M897.14 551.6h0M905.38 551.6h0M913.62 551.6h0M921.86 551.6h0M930.10 551.6h0M938.34 551.6h0M946.58 551.6h0M954.82 551.6h0M963.06 551.6h0M971.30 551.6h0M979.54 551.6h0M987.78 551.6h0M996.02 551.6h0M1004.26 551.6h0M1012.50 551.6h0M1020.74 551.6h0M1028.98 551.6h0M1037.22 551.6h0M1045.46 551.6h0M1053.70 551.6h0M1061.94 551.6h0M1070.18 551.6h0M1078.42 551.6h0M1086.66 551.6h0M1094.90 551.6h0M1103.14 551.6h0M1111.38 551.6h0M1119.62 551.6h0M1127.86 551.6h0M1136.10 551.6h0M1144.34 551.6h0M1152.58 551.6h0M1160.82 551.6h0M1169.06 551.6h0M1177.30 551.6h0M1185.54 551.6h0M1193.78 551.6h0M1202.02 551.6h0M1210.26 551.6h0M1218.50 551.6h0M1226.74 551.6h0M1234.98 551.6h0M1243.22 551.6h0M1251.46 551.6h0M1259.70 551.6h0M1267.94 551.6h0M1276.18 551.6h0M1284.42 551.6h0M1292.66 551.6h0M1300.90 551.6h0M1309.14 551.6h0M1317.38 551.6h0M1325.62 551.6h0M1333.86 551.6h0M1342.10 551.6h0M1350.34 551.6h0M1358.58 551.6h0M1366.82 551.6h0M1375.06 551.6h0M1383.30 551.6h0M1391.54 551.6h0M1399.78 551.6h0M1408.02 551.6h0M1416.26 551.6h0M1424.50 551.6h0M1432.74 551.6h0M1440.98 551.6h0" class="dot"/>
<circle cx="1008.1" cy="551.6" r="11.9" class="cir"/>
<text x="376.0" y="600.8" class="t e">MI</text>
<path d="M333.2 571.0 A19.6 19.6 0 0 0 333.2 603.8" class="pa"/>
<path d="M375.7 571.0 A19.6 19.6 0 0 1 375.7 603.8" class="pa"/>
<text x="300.0" y="600.8" class="t e" xml:space="preserve">Man Wu</text>
<line x1="468.4" y1="572.6" x2="468.4" y2="595.2" class="cap"/>
<line x1="1161.0" y1="572.6" x2="1161.0" y2="595.2" class="cap"/>
<path d="M468.40 583.9h0M476.64 583.9h0M484.88 583.9h0M493.12 583.9h0M501.36 583.9h0M509.60 583.9h0M517.84 583.9h0M526.08 583.9h0M534.32 583.9h0M542.56 583.9h0M550.80 583.9h0M559.04 583.9h0M567.28 583.9h0M575.52 583.9h0M583.76 583.9h0M592.00 583.9h0M600.24 583.9h0M608.48 583.9h0M616.72 583.9h0M624.96 583.9h0M633.20 583.9h0M641.44 583.9h0M649.68 583.9h0M657.92 583.9h0M666.16 583.9h0M674.40 583.9h0M682.64 583.9h0M690.88 583.9h0M699.12 583.9h0M707.36 583.9h0M715.60 583.9h0M723.84 583.9h0M732.08 583.9h0M740.32 583.9h0M748.56 583.9h0M756.80 583.9h0M765.04 583.9h0M773.28 583.9h0M781.52 583.9h0M789.76 583.9h0M798.00 583.9h0M806.24 583.9h0M814.48 583.9h0M822.72 583.9h0M830.96 583.9h0M839.20 583.9h0M847.44 583.9h0M855.68 583.9h0M863.92 583.9h0M872.16 583.9h0M880.40 583.9h0M888.64 583.9h0M896.88 583.9h0M905.12 583.9h0M913.36 583.9h0M921.60 583.9h0M929.84 583.9h0M938.08 583.9h0M946.32 583.9h0M954.56 583.9h0M962.80 583.9h0M971.04 583.9h0M979.28 583.9h0M987.52 583.9h0M995.76 583.9h0M1004.00 583.9h0M1012.24 583.9h0M1020.48 583.9h0M1028.72 583.9h0M1036.96 583.9h0M1045.20 583.9h0M1053.44 583.9h0M1061.68 583.9h0M1069.92 583.9h0M1078.16 583.9h0M1086.40 583.9h0M1094.64 583.9h0M1102.88 583.9h0M1111.12 583.9h0M1119.36 583.9h0M1127.60 583.9h0M1135.84 583.9h0M1144.08 583.9h0M1152.32 583.9h0" class="dot"/>
<circle cx="801.7" cy="583.9" r="11.9" class="cir"/>
<text x="376.0" y="633.1" class="t e">Stroke</text>
<path d="M269.2 603.3 A19.6 19.6 0 0 0 269.2 636.1" class="pa"/>
<path d="M375.7 603.3 A19.6 19.6 0 0 1 375.7 636.1" class="pa"/>
<text x="236.0" y="633.1" class="t e" xml:space="preserve">Man Wu</text>
<line x1="432.0" y1="604.9" x2="432.0" y2="627.5" class="cap"/>
<line x1="1094.4" y1="604.9" x2="1094.4" y2="627.5" class="cap"/>
<path d="M432.00 616.2h0M440.24 616.2h0M448.48 616.2h0M456.72 616.2h0M464.96 616.2h0M473.20 616.2h0M481.44 616.2h0M489.68 616.2h0M497.92 616.2h0M506.16 616.2h0M514.40 616.2h0M522.64 616.2h0M530.88 616.2h0M539.12 616.2h0M547.36 616.2h0M555.60 616.2h0M563.84 616.2h0M572.08 616.2h0M580.32 616.2h0M588.56 616.2h0M596.80 616.2h0M605.04 616.2h0M613.28 616.2h0M621.52 616.2h0M629.76 616.2h0M638.00 616.2h0M646.24 616.2h0M654.48 616.2h0M662.72 616.2h0M670.96 616.2h0M679.20 616.2h0M687.44 616.2h0M695.68 616.2h0M703.92 616.2h0M712.16 616.2h0M720.40 616.2h0M728.64 616.2h0M736.88 616.2h0M745.12 616.2h0M753.36 616.2h0M761.60 616.2h0M769.84 616.2h0M778.08 616.2h0M786.32 616.2h0M794.56 616.2h0M802.80 616.2h0M811.04 616.2h0M819.28 616.2h0M827.52 616.2h0M835.76 616.2h0M844.00 616.2h0M852.24 616.2h0M860.48 616.2h0M868.72 616.2h0M876.96 616.2h0M885.20 616.2h0M893.44 616.2h0M901.68 616.2h0M909.92 616.2h0M918.16 616.2h0M926.40 616.2h0M934.64 616.2h0M942.88 616.2h0M951.12 616.2h0M959.36 616.2h0M967.60 616.2h0M975.84 616.2h0M984.08 616.2h0M992.32 616.2h0M1000.56 616.2h0M1008.80 616.2h0M1017.04 616.2h0M1025.28 616.2h0M1033.52 616.2h0M1041.76 616.2h0M1050.00 616.2h0M1058.24 616.2h0M1066.48 616.2h0M1074.72 616.2h0M1082.96 616.2h0" class="dot"/>
<circle cx="750.9" cy="616.2" r="11.9" class="cir"/>
<text x="376.0" y="665.3" class="t e">CVD</text>
<path d="M297.2 635.5 A19.6 19.6 0 0 0 297.2 668.3" class="pa"/>
<path d="M375.7 635.5 A19.6 19.6 0 0 1 375.7 668.3" class="pa"/>
<text x="264.0" y="665.3" class="t e" xml:space="preserve">Neufcourt</text>
<line x1="513.4" y1="637.2" x2="513.4" y2="659.8" class="cap"/>
<line x1="1238.9" y1="637.2" x2="1238.9" y2="659.8" class="cap"/>
<path d="M513.40 648.5h0M521.64 648.5h0M529.88 648.5h0M538.12 648.5h0M546.36 648.5h0M554.60 648.5h0M562.84 648.5h0M571.08 648.5h0M579.32 648.5h0M587.56 648.5h0M595.80 648.5h0M604.04 648.5h0M612.28 648.5h0M620.52 648.5h0M628.76 648.5h0M637.00 648.5h0M645.24 648.5h0M653.48 648.5h0M661.72 648.5h0M669.96 648.5h0M678.20 648.5h0M686.44 648.5h0M694.68 648.5h0M702.92 648.5h0M711.16 648.5h0M719.40 648.5h0M727.64 648.5h0M735.88 648.5h0M744.12 648.5h0M752.36 648.5h0M760.60 648.5h0M768.84 648.5h0M777.08 648.5h0M785.32 648.5h0M793.56 648.5h0M801.80 648.5h0M810.04 648.5h0M818.28 648.5h0M826.52 648.5h0M834.76 648.5h0M843.00 648.5h0M851.24 648.5h0M859.48 648.5h0M867.72 648.5h0M875.96 648.5h0M884.20 648.5h0M892.44 648.5h0M900.68 648.5h0M908.92 648.5h0M917.16 648.5h0M925.40 648.5h0M933.64 648.5h0M941.88 648.5h0M950.12 648.5h0M958.36 648.5h0M966.60 648.5h0M974.84 648.5h0M983.08 648.5h0M991.32 648.5h0M999.56 648.5h0M1007.80 648.5h0M1016.04 648.5h0M1024.28 648.5h0M1032.52 648.5h0M1040.76 648.5h0M1049.00 648.5h0M1057.24 648.5h0M1065.48 648.5h0M1073.72 648.5h0M1081.96 648.5h0M1090.20 648.5h0M1098.44 648.5h0M1106.68 648.5h0M1114.92 648.5h0M1123.16 648.5h0M1131.40 648.5h0M1139.64 648.5h0M1147.88 648.5h0M1156.12 648.5h0M1164.36 648.5h0M1172.60 648.5h0M1180.84 648.5h0M1189.08 648.5h0M1197.32 648.5h0M1205.56 648.5h0M1213.80 648.5h0M1222.04 648.5h0M1230.28 648.5h0" class="dot"/>
<circle cx="862.1" cy="648.5" r="11.9" class="cir"/>
<text x="376.0" y="697.6" class="t e">MI</text>
<path d="M333.2 667.8 A19.6 19.6 0 0 0 333.2 700.6" class="pa"/>
<path d="M375.7 667.8 A19.6 19.6 0 0 1 375.7 700.6" class="pa"/>
<text x="300.0" y="697.6" class="t e" xml:space="preserve">Neufcourt </text>
<line x1="469.7" y1="669.5" x2="469.7" y2="692.1" class="cap"/>
<line x1="1153.4" y1="669.5" x2="1153.4" y2="692.1" class="cap"/>
<path d="M469.70 680.8h0M477.94 680.8h0M486.18 680.8h0M494.42 680.8h0M502.66 680.8h0M510.90 680.8h0M519.14 680.8h0M527.38 680.8h0M535.62 680.8h0M543.86 680.8h0M552.10 680.8h0M560.34 680.8h0M568.58 680.8h0M576.82 680.8h0M585.06 680.8h0M593.30 680.8h0M601.54 680.8h0M609.78 680.8h0M618.02 680.8h0M626.26 680.8h0M634.50 680.8h0M642.74 680.8h0M650.98 680.8h0M659.22 680.8h0M667.46 680.8h0M675.70 680.8h0M683.94 680.8h0M692.18 680.8h0M700.42 680.8h0M708.66 680.8h0M716.90 680.8h0M725.14 680.8h0M733.38 680.8h0M741.62 680.8h0M749.86 680.8h0M758.10 680.8h0M766.34 680.8h0M774.58 680.8h0M782.82 680.8h0M791.06 680.8h0M799.30 680.8h0M807.54 680.8h0M815.78 680.8h0M824.02 680.8h0M832.26 680.8h0M840.50 680.8h0M848.74 680.8h0M856.98 680.8h0M865.22 680.8h0M873.46 680.8h0M881.70 680.8h0M889.94 680.8h0M898.18 680.8h0M906.42 680.8h0M914.66 680.8h0M922.90 680.8h0M931.14 680.8h0M939.38 680.8h0M947.62 680.8h0M955.86 680.8h0M964.10 680.8h0M972.34 680.8h0M980.58 680.8h0M988.82 680.8h0M997.06 680.8h0M1005.30 680.8h0M1013.54 680.8h0M1021.78 680.8h0M1030.02 680.8h0M1038.26 680.8h0M1046.50 680.8h0M1054.74 680.8h0M1062.98 680.8h0M1071.22 680.8h0M1079.46 680.8h0M1087.70 680.8h0M1095.94 680.8h0M1104.18 680.8h0M1112.42 680.8h0M1120.66 680.8h0M1128.90 680.8h0M1137.14 680.8h0M1145.38 680.8h0" class="dot"/>
<circle cx="799.1" cy="680.8" r="11.9" class="cir"/>
<text x="376.0" y="729.9" class="t e">Stroke</text>
<path d="M269.2 700.1 A19.6 19.6 0 0 0 269.2 732.9" class="pa"/>
<path d="M375.7 700.1 A19.6 19.6 0 0 1 375.7 732.9" class="pa"/>
<text x="236.0" y="729.9" class="t e" xml:space="preserve">Neufcourt </text>
<line x1="510.3" y1="701.8" x2="510.3" y2="724.4" class="cap"/>
<line x1="1224.9" y1="701.8" x2="1224.9" y2="724.4" class="cap"/>
<path d="M510.30 713.1h0M518.54 713.1h0M526.78 713.1h0M535.02 713.1h0M543.26 713.1h0M551.50 713.1h0M559.74 713.1h0M567.98 713.1h0M576.22 713.1h0M584.46 713.1h0M592.70 713.1h0M600.94 713.1h0M609.18 713.1h0M617.42 713.1h0M625.66 713.1h0M633.90 713.1h0M642.14 713.1h0M650.38 713.1h0M658.62 713.1h0M666.86 713.1h0M675.10 713.1h0M683.34 713.1h0M691.58 713.1h0M699.82 713.1h0M708.06 713.1h0M716.30 713.1h0M724.54 713.1h0M732.78 713.1h0M741.02 713.1h0M749.26 713.1h0M757.50 713.1h0M765.74 713.1h0M773.98 713.1h0M782.22 713.1h0M790.46 713.1h0M798.70 713.1h0M806.94 713.1h0M815.18 713.1h0M823.42 713.1h0M831.66 713.1h0M839.90 713.1h0M848.14 713.1h0M856.38 713.1h0M864.62 713.1h0M872.86 713.1h0M881.10 713.1h0M889.34 713.1h0M897.58 713.1h0M905.82 713.1h0M914.06 713.1h0M922.30 713.1h0M930.54 713.1h0M938.78 713.1h0M947.02 713.1h0M955.26 713.1h0M963.50 713.1h0M971.74 713.1h0M979.98 713.1h0M988.22 713.1h0M996.46 713.1h0M1004.70 713.1h0M1012.94 713.1h0M1021.18 713.1h0M1029.42 713.1h0M1037.66 713.1h0M1045.90 713.1h0M1054.14 713.1h0M1062.38 713.1h0M1070.62 713.1h0M1078.86 713.1h0M1087.10 713.1h0M1095.34 713.1h0M1103.58 713.1h0M1111.82 713.1h0M1120.06 713.1h0M1128.30 713.1h0M1136.54 713.1h0M1144.78 713.1h0M1153.02 713.1h0M1161.26 713.1h0M1169.50 713.1h0M1177.74 713.1h0M1185.98 713.1h0M1194.22 713.1h0M1202.46 713.1h0M1210.70 713.1h0" class="dot"/>
<circle cx="853.8" cy="713.1" r="11.9" class="cir"/>
<text x="376.0" y="762.1" class="t e">HTN</text>
<path d="M299.2 732.3 A19.6 19.6 0 0 0 299.2 765.1" class="pa"/>
<path d="M375.7 732.3 A19.6 19.6 0 0 1 375.7 765.1" class="pa"/>
<text x="266.0" y="762.1" class="t e" xml:space="preserve">Paola Villaverde </text>
<line x1="510.3" y1="734.1" x2="510.3" y2="756.7" class="cap"/>
<line x1="1231.3" y1="734.1" x2="1231.3" y2="756.7" class="cap"/>
<path d="M510.30 745.4h0M518.54 745.4h0M526.78 745.4h0M535.02 745.4h0M543.26 745.4h0M551.50 745.4h0M559.74 745.4h0M567.98 745.4h0M576.22 745.4h0M584.46 745.4h0M592.70 745.4h0M600.94 745.4h0M609.18 745.4h0M617.42 745.4h0M625.66 745.4h0M633.90 745.4h0M642.14 745.4h0M650.38 745.4h0M658.62 745.4h0M666.86 745.4h0M675.10 745.4h0M683.34 745.4h0M691.58 745.4h0M699.82 745.4h0M708.06 745.4h0M716.30 745.4h0M724.54 745.4h0M732.78 745.4h0M741.02 745.4h0M749.26 745.4h0M757.50 745.4h0M765.74 745.4h0M773.98 745.4h0M782.22 745.4h0M790.46 745.4h0M798.70 745.4h0M806.94 745.4h0M815.18 745.4h0M823.42 745.4h0M831.66 745.4h0M839.90 745.4h0M848.14 745.4h0M856.38 745.4h0M864.62 745.4h0M872.86 745.4h0M881.10 745.4h0M889.34 745.4h0M897.58 745.4h0M905.82 745.4h0M914.06 745.4h0M922.30 745.4h0M930.54 745.4h0M938.78 745.4h0M947.02 745.4h0M955.26 745.4h0M963.50 745.4h0M971.74 745.4h0M979.98 745.4h0M988.22 745.4h0M996.46 745.4h0M1004.70 745.4h0M1012.94 745.4h0M1021.18 745.4h0M1029.42 745.4h0M1037.66 745.4h0M1045.90 745.4h0M1054.14 745.4h0M1062.38 745.4h0M1070.62 745.4h0M1078.86 745.4h0M1087.10 745.4h0M1095.34 745.4h0M1103.58 745.4h0M1111.82 745.4h0M1120.06 745.4h0M1128.30 745.4h0M1136.54 745.4h0M1144.78 745.4h0M1153.02 745.4h0M1161.26 745.4h0M1169.50 745.4h0M1177.74 745.4h0M1185.98 745.4h0M1194.22 745.4h0M1202.46 745.4h0M1210.70 745.4h0M1218.94 745.4h0" class="dot"/>
<circle cx="856.7" cy="745.4" r="11.9" class="cir"/>
<text x="376.0" y="794.4" class="t e">CVD</text>
<path d="M297.2 764.6 A19.6 19.6 0 0 0 297.2 797.4" class="pa"/>
<path d="M375.7 764.6 A19.6 19.6 0 0 1 375.7 797.4" class="pa"/>
<text x="264.0" y="794.4" class="t e" xml:space="preserve">Raúl Ramallal</text>
<line x1="469.5" y1="766.4" x2="469.5" y2="789.0" class="cap"/>
<line x1="1156.5" y1="766.4" x2="1156.5" y2="789.0" class="cap"/>
<path d="M469.50 777.7h0M477.74 777.7h0M485.98 777.7h0M494.22 777.7h0M502.46 777.7h0M510.70 777.7h0M518.94 777.7h0M527.18 777.7h0M535.42 777.7h0M543.66 777.7h0M551.90 777.7h0M560.14 777.7h0M568.38 777.7h0M576.62 777.7h0M584.86 777.7h0M593.10 777.7h0M601.34 777.7h0M609.58 777.7h0M617.82 777.7h0M626.06 777.7h0M634.30 777.7h0M642.54 777.7h0M650.78 777.7h0M659.02 777.7h0M667.26 777.7h0M675.50 777.7h0M683.74 777.7h0M691.98 777.7h0M700.22 777.7h0M708.46 777.7h0M716.70 777.7h0M724.94 777.7h0M733.18 777.7h0M741.42 777.7h0M749.66 777.7h0M757.90 777.7h0M766.14 777.7h0M774.38 777.7h0M782.62 777.7h0M790.86 777.7h0M799.10 777.7h0M807.34 777.7h0M815.58 777.7h0M823.82 777.7h0M832.06 777.7h0M840.30 777.7h0M848.54 777.7h0M856.78 777.7h0M865.02 777.7h0M873.26 777.7h0M881.50 777.7h0M889.74 777.7h0M897.98 777.7h0M906.22 777.7h0M914.46 777.7h0M922.70 777.7h0M930.94 777.7h0M939.18 777.7h0M947.42 777.7h0M955.66 777.7h0M963.90 777.7h0M972.14 777.7h0M980.38 777.7h0M988.62 777.7h0M996.86 777.7h0M1005.10 777.7h0M1013.34 777.7h0M1021.58 777.7h0M1029.82 777.7h0M1038.06 777.7h0M1046.30 777.7h0M1054.54 777.7h0M1062.78 777.7h0M1071.02 777.7h0M1079.26 777.7h0M1087.50 777.7h0M1095.74 777.7h0M1103.98 777.7h0M1112.22 777.7h0M1120.46 777.7h0M1128.70 777.7h0M1136.94 777.7h0M1145.18 777.7h0" class="dot"/>
<circle cx="799.7" cy="777.7" r="11.9" class="cir"/>
<text x="376.0" y="826.7" class="t e">HTN</text>
<path d="M299.2 796.9 A19.6 19.6 0 0 0 299.2 829.7" class="pa"/>
<path d="M375.7 796.9 A19.6 19.6 0 0 1 375.7 829.7" class="pa"/>
<text x="266.0" y="826.7" class="t e" xml:space="preserve">Raúl Ramallal</text>
<line x1="456.9" y1="798.7" x2="456.9" y2="821.3" class="cap"/>
<line x1="1143.0" y1="798.7" x2="1143.0" y2="821.3" class="cap"/>
<path d="M456.90 810.0h0M465.14 810.0h0M473.38 810.0h0M481.62 810.0h0M489.86 810.0h0M498.10 810.0h0M506.34 810.0h0M514.58 810.0h0M522.82 810.0h0M531.06 810.0h0M539.30 810.0h0M547.54 810.0h0M555.78 810.0h0M564.02 810.0h0M572.26 810.0h0M580.50 810.0h0M588.74 810.0h0M596.98 810.0h0M605.22 810.0h0M613.46 810.0h0M621.70 810.0h0M629.94 810.0h0M638.18 810.0h0M646.42 810.0h0M654.66 810.0h0M662.90 810.0h0M671.14 810.0h0M679.38 810.0h0M687.62 810.0h0M695.86 810.0h0M704.10 810.0h0M712.34 810.0h0M720.58 810.0h0M728.82 810.0h0M737.06 810.0h0M745.30 810.0h0M753.54 810.0h0M761.78 810.0h0M770.02 810.0h0M778.26 810.0h0M786.50 810.0h0M794.74 810.0h0M802.98 810.0h0M811.22 810.0h0M819.46 810.0h0M827.70 810.0h0M835.94 810.0h0M844.18 810.0h0M852.42 810.0h0M860.66 810.0h0M868.90 810.0h0M877.14 810.0h0M885.38 810.0h0M893.62 810.0h0M901.86 810.0h0M910.10 810.0h0M918.34 810.0h0M926.58 810.0h0M934.82 810.0h0M943.06 810.0h0M951.30 810.0h0M959.54 810.0h0M967.78 810.0h0M976.02 810.0h0M984.26 810.0h0M992.50 810.0h0M1000.74 810.0h0M1008.98 810.0h0M1017.22 810.0h0M1025.46 810.0h0M1033.70 810.0h0M1041.94 810.0h0M1050.18 810.0h0M1058.42 810.0h0M1066.66 810.0h0M1074.90 810.0h0M1083.14 810.0h0M1091.38 810.0h0M1099.62 810.0h0M1107.86 810.0h0M1116.10 810.0h0M1124.34 810.0h0M1132.58 810.0h0" class="dot"/>
<circle cx="787.1" cy="810.0" r="11.9" class="cir"/>
<text x="376.0" y="858.9" class="t e">CVD</text>
<path d="M297.2 829.1 A19.6 19.6 0 0 0 297.2 861.9" class="pa"/>
<path d="M375.7 829.1 A19.6 19.6 0 0 1 375.7 861.9" class="pa"/>
<text x="264.0" y="858.9" class="t e" xml:space="preserve">Zahra Asadi</text>
<line x1="523.4" y1="831.0" x2="523.4" y2="853.6" class="cap"/>
<line x1="1248.8" y1="831.0" x2="1248.8" y2="853.6" class="cap"/>
<path d="M523.40 842.3h0M531.64 842.3h0M539.88 842.3h0M548.12 842.3h0M556.36 842.3h0M564.60 842.3h0M572.84 842.3h0M581.08 842.3h0M589.32 842.3h0M597.56 842.3h0M605.80 842.3h0M614.04 842.3h0M622.28 842.3h0M630.52 842.3h0M638.76 842.3h0M647.00 842.3h0M655.24 842.3h0M663.48 842.3h0M671.72 842.3h0M679.96 842.3h0M688.20 842.3h0M696.44 842.3h0M704.68 842.3h0M712.92 842.3h0M721.16 842.3h0M729.40 842.3h0M737.64 842.3h0M745.88 842.3h0M754.12 842.3h0M762.36 842.3h0M770.60 842.3h0M778.84 842.3h0M787.08 842.3h0M795.32 842.3h0M803.56 842.3h0M811.80 842.3h0M820.04 842.3h0M828.28 842.3h0M836.52 842.3h0M844.76 842.3h0M853.00 842.3h0M861.24 842.3h0M869.48 842.3h0M877.72 842.3h0M885.96 842.3h0M894.20 842.3h0M902.44 842.3h0M910.68 842.3h0M918.92 842.3h0M927.16 842.3h0M935.40 842.3h0M943.64 842.3h0M951.88 842.3h0M960.12 842.3h0M968.36 842.3h0M976.60 842.3h0M984.84 842.3h0M993.08 842.3h0M1001.32 842.3h0M1009.56 842.3h0M1017.80 842.3h0M1026.04 842.3h0M1034.28 842.3h0M1042.52 842.3h0M1050.76 842.3h0M1059.00 842.3h0M1067.24 842.3h0M1075.48 842.3h0M1083.72 842.3h0M1091.96 842.3h0M1100.20 842.3h0M1108.44 842.3h0M1116.68 842.3h0M1124.92 842.3h0M1133.16 842.3h0M1141.40 842.3h0M1149.64 842.3h0M1157.88 842.3h0M1166.12 842.3h0M1174.36 842.3h0M1182.60 842.3h0M1190.84 842.3h0M1199.08 842.3h0M1207.32 842.3h0M1215.56 842.3h0M1223.80 842.3h0M1232.04 842.3h0M1240.28 842.3h0" class="dot"/>
<circle cx="871.9" cy="842.3" r="11.9" class="cir"/>
<text x="376.0" y="891.2" class="t e">MI</text>
<path d="M333.2 861.4 A19.6 19.6 0 0 0 333.2 894.2" class="pa"/>
<path d="M375.7 861.4 A19.6 19.6 0 0 1 375.7 894.2" class="pa"/>
<text x="300.0" y="891.2" class="t e" xml:space="preserve">Zahra Asadi</text>
<line x1="505.0" y1="863.3" x2="505.0" y2="885.9" class="cap"/>
<line x1="1216.3" y1="863.3" x2="1216.3" y2="885.9" class="cap"/>
<path d="M505.00 874.6h0M513.24 874.6h0M521.48 874.6h0M529.72 874.6h0M537.96 874.6h0M546.20 874.6h0M554.44 874.6h0M562.68 874.6h0M570.92 874.6h0M579.16 874.6h0M587.40 874.6h0M595.64 874.6h0M603.88 874.6h0M612.12 874.6h0M620.36 874.6h0M628.60 874.6h0M636.84 874.6h0M645.08 874.6h0M653.32 874.6h0M661.56 874.6h0M669.80 874.6h0M678.04 874.6h0M686.28 874.6h0M694.52 874.6h0M702.76 874.6h0M711.00 874.6h0M719.24 874.6h0M727.48 874.6h0M735.72 874.6h0M743.96 874.6h0M752.20 874.6h0M760.44 874.6h0M768.68 874.6h0M776.92 874.6h0M785.16 874.6h0M793.40 874.6h0M801.64 874.6h0M809.88 874.6h0M818.12 874.6h0M826.36 874.6h0M834.60 874.6h0M842.84 874.6h0M851.08 874.6h0M859.32 874.6h0M867.56 874.6h0M875.80 874.6h0M884.04 874.6h0M892.28 874.6h0M900.52 874.6h0M908.76 874.6h0M917.00 874.6h0M925.24 874.6h0M933.48 874.6h0M941.72 874.6h0M949.96 874.6h0M958.20 874.6h0M966.44 874.6h0M974.68 874.6h0M982.92 874.6h0M991.16 874.6h0M999.40 874.6h0M1007.64 874.6h0M1015.88 874.6h0M1024.12 874.6h0M1032.36 874.6h0M1040.60 874.6h0M1048.84 874.6h0M1057.08 874.6h0M1065.32 874.6h0M1073.56 874.6h0M1081.80 874.6h0M1090.04 874.6h0M1098.28 874.6h0M1106.52 874.6h0M1114.76 874.6h0M1123.00 874.6h0M1131.24 874.6h0M1139.48 874.6h0M1147.72 874.6h0M1155.96 874.6h0M1164.20 874.6h0M1172.44 874.6h0M1180.68 874.6h0M1188.92 874.6h0M1197.16 874.6h0M1205.40 874.6h0" class="dot"/>
<circle cx="846.9" cy="874.6" r="11.9" class="cir"/>
<text x="376.0" y="923.5" class="t e">HTN</text>
<path d="M299.2 893.7 A19.6 19.6 0 0 0 299.2 926.5" class="pa"/>
<path d="M375.7 893.7 A19.6 19.6 0 0 1 375.7 926.5" class="pa"/>
<text x="266.0" y="923.5" class="t e" xml:space="preserve">Ze Xu</text>
<line x1="591.1" y1="895.6" x2="591.1" y2="918.2" class="cap"/>
<line x1="1392.0" y1="895.6" x2="1392.0" y2="918.2" class="cap"/>
<path d="M591.10 906.9h0M599.34 906.9h0M607.58 906.9h0M615.82 906.9h0M624.06 906.9h0M632.30 906.9h0M640.54 906.9h0M648.78 906.9h0M657.02 906.9h0M665.26 906.9h0M673.50 906.9h0M681.74 906.9h0M689.98 906.9h0M698.22 906.9h0M706.46 906.9h0M714.70 906.9h0M722.94 906.9h0M731.18 906.9h0M739.42 906.9h0M747.66 906.9h0M755.90 906.9h0M764.14 906.9h0M772.38 906.9h0M780.62 906.9h0M788.86 906.9h0M797.10 906.9h0M805.34 906.9h0M813.58 906.9h0M821.82 906.9h0M830.06 906.9h0M838.30 906.9h0M846.54 906.9h0M854.78 906.9h0M863.02 906.9h0M871.26 906.9h0M879.50 906.9h0M887.74 906.9h0M895.98 906.9h0M904.22 906.9h0M912.46 906.9h0M920.70 906.9h0M928.94 906.9h0M937.18 906.9h0M945.42 906.9h0M953.66 906.9h0M961.90 906.9h0M970.14 906.9h0M978.38 906.9h0M986.62 906.9h0M994.86 906.9h0M1003.10 906.9h0M1011.34 906.9h0M1019.58 906.9h0M1027.82 906.9h0M1036.06 906.9h0M1044.30 906.9h0M1052.54 906.9h0M1060.78 906.9h0M1069.02 906.9h0M1077.26 906.9h0M1085.50 906.9h0M1093.74 906.9h0M1101.98 906.9h0M1110.22 906.9h0M1118.46 906.9h0M1126.70 906.9h0M1134.94 906.9h0M1143.18 906.9h0M1151.42 906.9h0M1159.66 906.9h0M1167.90 906.9h0M1176.14 906.9h0M1184.38 906.9h0M1192.62 906.9h0M1200.86 906.9h0M1209.10 906.9h0M1217.34 906.9h0M1225.58 906.9h0M1233.82 906.9h0M1242.06 906.9h0M1250.30 906.9h0M1258.54 906.9h0M1266.78 906.9h0M1275.02 906.9h0M1283.26 906.9h0M1291.50 906.9h0M1299.74 906.9h0M1307.98 906.9h0M1316.22 906.9h0M1324.46 906.9h0M1332.70 906.9h0M1340.94 906.9h0M1349.18 906.9h0M1357.42 906.9h0M1365.66 906.9h0M1373.90 906.9h0M1382.14 906.9h0" class="dot"/>
<circle cx="974.6" cy="906.9" r="11.9" class="cir"/>
<text x="376.0" y="955.8" class="t e">IHD</text>
<path d="M311.2 926.0 A19.6 19.6 0 0 0 311.2 958.8" class="pa"/>
<path d="M375.7 926.0 A19.6 19.6 0 0 1 375.7 958.8" class="pa"/>
<text x="278.0" y="955.8" class="t e" xml:space="preserve">Zuercher</text>
<line x1="584.0" y1="927.9" x2="584.0" y2="950.5" class="cap"/>
<line x1="1398.3" y1="927.9" x2="1398.3" y2="950.5" class="cap"/>
<path d="M584.00 939.2h0M592.24 939.2h0M600.48 939.2h0M608.72 939.2h0M616.96 939.2h0M625.20 939.2h0M633.44 939.2h0M641.68 939.2h0M649.92 939.2h0M658.16 939.2h0M666.40 939.2h0M674.64 939.2h0M682.88 939.2h0M691.12 939.2h0M699.36 939.2h0M707.60 939.2h0M715.84 939.2h0M724.08 939.2h0M732.32 939.2h0M740.56 939.2h0M748.80 939.2h0M757.04 939.2h0M765.28 939.2h0M773.52 939.2h0M781.76 939.2h0M790.00 939.2h0M798.24 939.2h0M806.48 939.2h0M814.72 939.2h0M822.96 939.2h0M831.20 939.2h0M839.44 939.2h0M847.68 939.2h0M855.92 939.2h0M864.16 939.2h0M872.40 939.2h0M880.64 939.2h0M888.88 939.2h0M897.12 939.2h0M905.36 939.2h0M913.60 939.2h0M921.84 939.2h0M930.08 939.2h0M938.32 939.2h0M946.56 939.2h0M954.80 939.2h0M963.04 939.2h0M971.28 939.2h0M979.52 939.2h0M987.76 939.2h0M996.00 939.2h0M1004.24 939.2h0M1012.48 939.2h0M1020.72 939.2h0M1028.96 939.2h0M1037.20 939.2h0M1045.44 939.2h0M1053.68 939.2h0M1061.92 939.2h0M1070.16 939.2h0M1078.40 939.2h0M1086.64 939.2h0M1094.88 939.2h0M1103.12 939.2h0M1111.36 939.2h0M1119.60 939.2h0M1127.84 939.2h0M1136.08 939.2h0M1144.32 939.2h0M1152.56 939.2h0M1160.80 939.2h0M1169.04 939.2h0M1177.28 939.2h0M1185.52 939.2h0M1193.76 939.2h0M1202.00 939.2h0M1210.24 939.2h0M1218.48 939.2h0M1226.72 939.2h0M1234.96 939.2h0M1243.20 939.2h0M1251.44 939.2h0M1259.68 939.2h0M1267.92 939.2h0M1276.16 939.2h0M1284.40 939.2h0M1292.64 939.2h0M1300.88 939.2h0M1309.12 939.2h0M1317.36 939.2h0M1325.60 939.2h0M1333.84 939.2h0M1342.08 939.2h0M1350.32 939.2h0M1358.56 939.2h0M1366.80 939.2h0M1375.04 939.2h0M1383.28 939.2h0M1391.52 939.2h0" class="dot"/>
<circle cx="973.5" cy="939.2" r="11.9" class="cir"/>
<text x="376.0" y="988.0" class="t e">Stroke</text>
<path d="M269.2 958.2 A19.6 19.6 0 0 0 269.2 991.0" class="pa"/>
<path d="M375.7 958.2 A19.6 19.6 0 0 1 375.7 991.0" class="pa"/>
<text x="236.0" y="988.0" class="t e" xml:space="preserve">Zuercher</text>
<line x1="588.3" y1="960.2" x2="588.3" y2="982.8" class="cap"/>
<line x1="1377.3" y1="960.2" x2="1377.3" y2="982.8" class="cap"/>
<path d="M588.30 971.5h0M596.54 971.5h0M604.78 971.5h0M613.02 971.5h0M621.26 971.5h0M629.50 971.5h0M637.74 971.5h0M645.98 971.5h0M654.22 971.5h0M662.46 971.5h0M670.70 971.5h0M678.94 971.5h0M687.18 971.5h0M695.42 971.5h0M703.66 971.5h0M711.90 971.5h0M720.14 971.5h0M728.38 971.5h0M736.62 971.5h0M744.86 971.5h0M753.10 971.5h0M761.34 971.5h0M769.58 971.5h0M777.82 971.5h0M786.06 971.5h0M794.30 971.5h0M802.54 971.5h0M810.78 971.5h0M819.02 971.5h0M827.26 971.5h0M835.50 971.5h0M843.74 971.5h0M851.98 971.5h0M860.22 971.5h0M868.46 971.5h0M876.70 971.5h0M884.94 971.5h0M893.18 971.5h0M901.42 971.5h0M909.66 971.5h0M917.90 971.5h0M926.14 971.5h0M934.38 971.5h0M942.62 971.5h0M950.86 971.5h0M959.10 971.5h0M967.34 971.5h0M975.58 971.5h0M983.82 971.5h0M992.06 971.5h0M1000.30 971.5h0M1008.54 971.5h0M1016.78 971.5h0M1025.02 971.5h0M1033.26 971.5h0M1041.50 971.5h0M1049.74 971.5h0M1057.98 971.5h0M1066.22 971.5h0M1074.46 971.5h0M1082.70 971.5h0M1090.94 971.5h0M1099.18 971.5h0M1107.42 971.5h0M1115.66 971.5h0M1123.90 971.5h0M1132.14 971.5h0M1140.38 971.5h0M1148.62 971.5h0M1156.86 971.5h0M1165.10 971.5h0M1173.34 971.5h0M1181.58 971.5h0M1189.82 971.5h0M1198.06 971.5h0M1206.30 971.5h0M1214.54 971.5h0M1222.78 971.5h0M1231.02 971.5h0M1239.26 971.5h0M1247.50 971.5h0M1255.74 971.5h0M1263.98 971.5h0M1272.22 971.5h0M1280.46 971.5h0M1288.70 971.5h0M1296.94 971.5h0M1305.18 971.5h0M1313.42 971.5h0M1321.66 971.5h0M1329.90 971.5h0M1338.14 971.5h0M1346.38 971.5h0M1354.62 971.5h0M1362.86 971.5h0" class="dot"/>
<circle cx="966.4" cy="971.5" r="11.9" class="cir"/>
</svg>
</body></html>
